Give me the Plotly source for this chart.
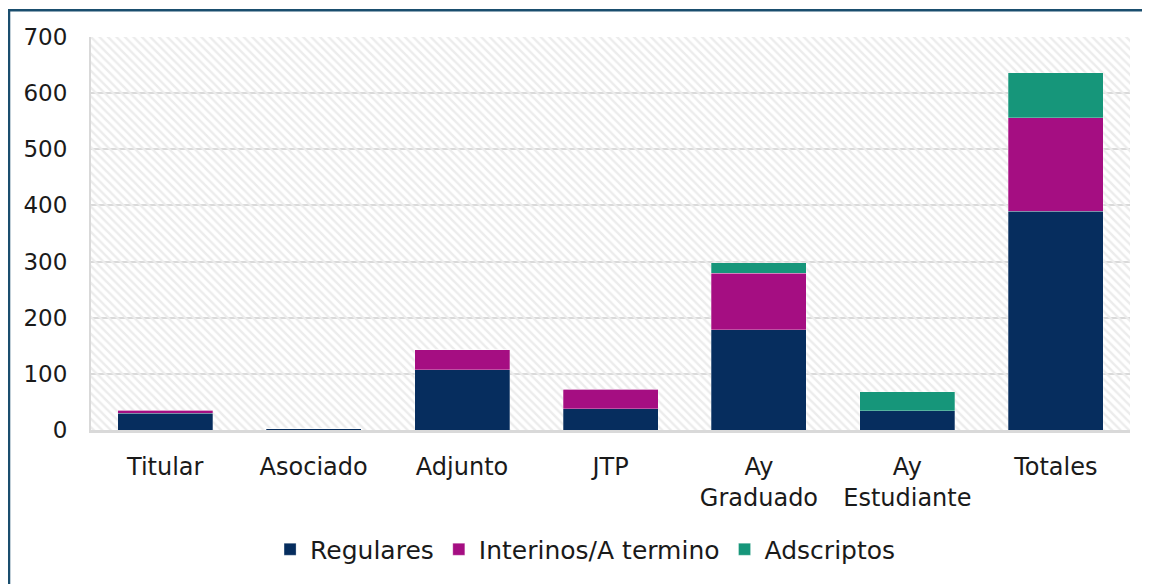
import plotly.graph_objects as go

categories = ["Titular", "Asociado", "Adjunto", "JTP", "Ay<br>Graduado", "Ay<br>Estudiante", "Totales"]
regulares = [30, 2, 107, 38, 179, 34, 390]
interinos = [5, 0, 36, 35, 100, 0, 166]
adscriptos = [0, 0, 0, 0, 19, 34, 80]

series = [
    ("Regulares", regulares, "#062D5E"),
    ("Interinos/A termino", interinos, "#A50E82"),
    ("Adscriptos", adscriptos, "#16967A"),
]

FONT = "DejaVu Sans"
TXT = "#1a1a1a"

fig = go.Figure()

# hatched plot background (on hidden base axes)
fig.add_trace(go.Scatter(
    x=[0, 1, 1, 0, 0], y=[0, 0, 1, 1, 0], xaxis="x", yaxis="y",
    mode="none", fill="toself", fillcolor="rgba(255,255,255,0)",
    fillpattern=dict(shape="\\", fgcolor="#ececec", fgopacity=1, bgcolor="rgba(255,255,255,0)",
                     size=6, solidity=0.4),
    hoverinfo="skip", showlegend=False,
))

for name, vals, color in series:
    fig.add_trace(go.Bar(
        x=categories, y=vals, name=name, xaxis="x2", yaxis="y2",
        marker=dict(color=color, line=dict(color="rgba(255,255,255,0.35)", width=0.8)),
    ))

fig.update_layout(
    width=1142, height=576,
    margin=dict(l=83, r=20, t=29, b=152),
    paper_bgcolor="white", plot_bgcolor="white",
    barmode="stack", bargap=0.36,
    font=dict(family=FONT, size=22, color=TXT),
    xaxis=dict(range=[0, 1], visible=False, fixedrange=True),
    yaxis=dict(range=[0, 1], visible=False, fixedrange=True),
    xaxis2=dict(overlaying="x", anchor="y2", type="category", showline=True,
                linecolor="#d9d9d9", linewidth=2.5, showgrid=False, ticks="",
                ticklabelstandoff=13,
                tickfont=dict(family=FONT, size=24, color=TXT)),
    yaxis2=dict(overlaying="y", anchor="x2", side="left", range=[0, 700], dtick=100,
                showline=True, linecolor="#d9d9d9", linewidth=2,
                gridcolor="#d9d9d9", gridwidth=1.5, zeroline=False, ticks="",
                ticklabelstandoff=17,
                tickfont=dict(family=FONT, size=23, color=TXT)),
    legend=dict(orientation="h", x=0.476, xanchor="center", y=-0.304, yanchor="middle",
                font=dict(family=FONT, size=25, color=TXT), traceorder="normal",
                itemwidth=30),
    shapes=[dict(type="rect", xref="paper", yref="paper",
                 x0=-0.0789, x1=1.1, y0=-0.6, y1=1.068,
                 line=dict(color="#1A4E6E", width=2.5), fillcolor="rgba(0,0,0,0)", layer="above")],
)

fig.write_html("out.html")
